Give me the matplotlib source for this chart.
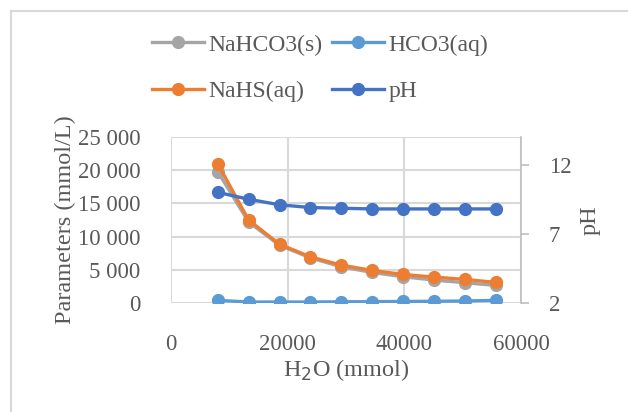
import numpy as np
import matplotlib.pyplot as plt
from matplotlib.ticker import FuncFormatter
from matplotlib.lines import Line2D

plt.rcParams['font.family'] = ['Liberation Serif', 'DejaVu Serif']

# data
h2o = [8000, 13300, 18600, 23900, 29200, 34500, 39800, 45100, 50400, 55700]
nahco3_s = [19800, 12200, 8700, 6800, 5450, 4600, 3950, 3450, 3050, 2650]
hco3_aq = [400, 150, 150, 150, 180, 200, 230, 260, 300, 400]
nahs_aq = [21000, 12500, 8850, 6950, 5700, 4900, 4300, 3900, 3550, 3100]
ph = [10.0, 9.5, 9.1, 8.9, 8.85, 8.8, 8.8, 8.8, 8.8, 8.8]

TXT = '#595959'
GRID = '#d9d9d9'
FS = 16.5

fig = plt.figure(figsize=(6.28, 4.12), dpi=100)
ax = fig.add_axes([171/628, 1 - 303/412, 350/628, 166/412])
ax2 = ax.twinx()

lw, ms = 2.4, 8.5
l_grey, = ax.plot(h2o, nahco3_s, '-o', color='#a5a5a5', lw=lw, ms=ms, label='NaHCO3(s)', zorder=3)
l_lb, = ax.plot(h2o, hco3_aq, '-o', color='#5b9bd5', lw=lw, ms=ms, label='HCO3(aq)', zorder=3)
l_or, = ax.plot(h2o, nahs_aq, '-o', color='#ed7d31', lw=lw, ms=ms, label='NaHS(aq)', zorder=4)
l_ph, = ax2.plot(h2o, ph, '-o', color='#4472c4', lw=lw, ms=ms, label='pH', zorder=4)

ax.set_xlim(0, 60000)
ax.set_ylim(0, 25000)
ax.set_xticks([0, 20000, 40000, 60000])
ax.set_yticks(np.arange(0, 25001, 5000))
ax.yaxis.set_major_formatter(FuncFormatter(lambda v, p: f"{int(v):,}".replace(',', ' ')))
ax.grid(True, color=GRID, lw=1.5)
ax.set_axisbelow(True)
ax.tick_params(axis='both', length=0, labelsize=FS, labelcolor=TXT)
ax.tick_params(axis='y', pad=22)
ax.tick_params(axis='x', pad=22)
for s in ax.spines.values():
    s.set_visible(False)

ax2.set_ylim(2, 14)
ax2.set_yticks([2, 7, 12])
ax2.tick_params(axis='y', length=6, width=1.2, color='#bfbfbf', labelsize=FS,
                labelcolor=TXT, pad=14)
for k, s in ax2.spines.items():
    s.set_visible(k == 'right')
ax2.spines['right'].set_color('#bfbfbf')
ax2.spines['right'].set_linewidth(1.2)

ax.set_xlabel('H$_2$O (mmol)', fontsize=FS + 1, color=TXT, labelpad=2)
ax.set_ylabel('Parameters (mmol/L)', fontsize=FS + 1, color=TXT, labelpad=1)
ax2.set_ylabel('pH', fontsize=FS + 1, color=TXT, labelpad=6)

fig.legend([l_grey, l_or, l_lb, l_ph], ['NaHCO3(s)', 'NaHS(aq)', 'HCO3(aq)', 'pH'],
           ncol=2, loc='center', bbox_to_anchor=(320/628, 1 - 68/412),
           frameon=False, fontsize=FS + 0.5, labelcolor=TXT,
           handlelength=2.2, handletextpad=0.2, columnspacing=0.4,
           labelspacing=1.05)

# chart-area border (top and left only visible in the crop)
fig.add_artist(Line2D([11/628, 11/628], [0, 1 - 11/412], transform=fig.transFigure,
                      color='#d9d9d9', lw=1.5))
fig.add_artist(Line2D([11/628, 1], [1 - 11/412, 1 - 11/412], transform=fig.transFigure,
                      color='#d9d9d9', lw=1.5))

fig.savefig('out.png', dpi=100)
